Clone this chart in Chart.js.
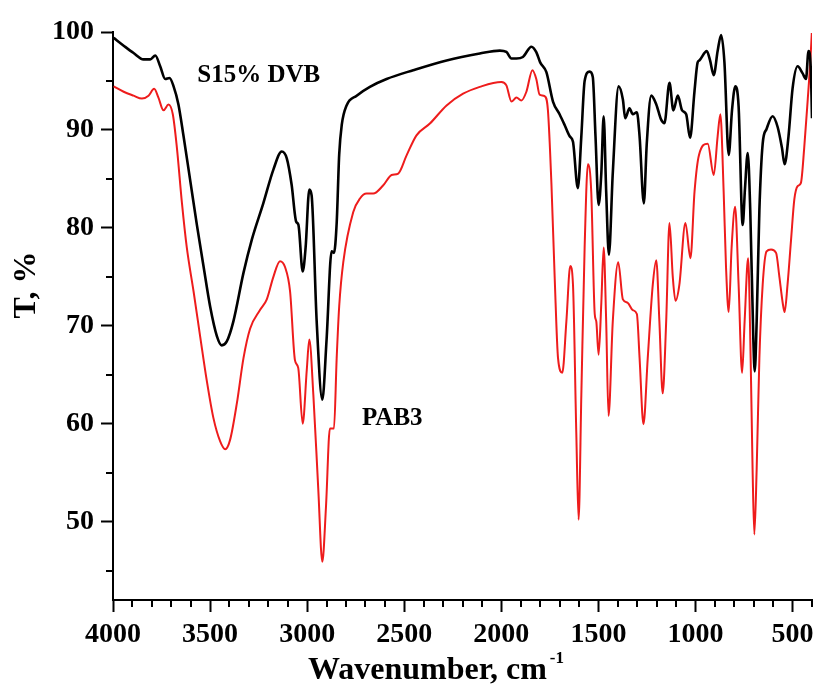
<!DOCTYPE html>
<html>
<head>
<meta charset="utf-8">
<script src="https://cdn.jsdelivr.net/npm/chart.js@4.4.1/dist/chart.umd.min.js"></script>
<style>
html,body{margin:0;padding:0;background:#fff;}
#wrap{width:818px;height:684px;}
</style>
</head>
<body>
<div id="wrap"><canvas id="c" width="818" height="684"></canvas></div>
<script>
// ---- data ----
const seriesNames = ["S15% DVB", "PAB3"];

const dvbWavenumber = [3997,3945,3894,3843,3808,3782,3757,3731,3709,3688,3663,3637,3602,3568,3534,3500,3465,3440,3414,3380,3328,3285,3226,3174,3131,3105,3080,3057,3045,3023,3008,2989,2977,2951,2922,2900,2874,2862,2848,2835,2822,2797,2745,2677,2591,2454,2282,2111,2008,1974,1948,1922,1889,1845,1820,1800,1768,1734,1700,1674,1648,1631,1606,1588,1571,1545,1529,1515,1499,1485,1473,1460,1446,1426,1396,1374,1362,1340,1323,1302,1288,1266,1251,1228,1202,1177,1160,1134,1114,1091,1069,1048,1028,1005,989,980,942,925,906,886,868,851,829,812,795,778,757,745,731,718,702,695,685,671,654,634,603,577,555,541,521,500,474,449,431,418,406,400];
const dvbT = [99.4,98.6,97.85,97.2,97.2,97.6,96.5,95.2,95.3,94.45,92.6,89.4,84.8,80.3,76.1,72.0,68.95,68.0,68.4,70.45,75.4,78.8,82.5,85.95,87.8,87.1,84.4,80.65,80.3,75.55,78.0,83.9,83.3,70.45,62.45,68.6,77.6,77.45,80.5,87.5,90.5,92.5,93.5,94.4,95.2,96.1,97.1,97.8,98.1,97.96,97.3,97.3,97.45,98.5,97.95,96.9,95.9,92.9,91.6,90.5,89.35,88.8,84.05,89.35,95.0,95.95,95.4,89.35,82.35,85.6,91.4,83.7,77.25,85.6,94.45,93.1,91.2,92.2,91.6,91.8,89.35,82.5,88.6,93.5,92.6,91.05,90.7,94.8,92.0,93.5,92.0,91.6,89.2,94.0,96.9,97.1,98.05,97.1,95.6,98.05,99.7,96.9,87.45,92.0,94.45,92.4,80.3,84.05,87.65,81.8,68.55,65.35,70.45,81.8,88.6,90.1,91.4,90.3,88.2,86.5,89.35,94.25,96.5,95.8,95.2,98.05,96.15,91.2];

const pabWavenumber = [3997,3945,3894,3851,3817,3788,3766,3740,3714,3692,3671,3645,3620,3585,3551,3517,3483,3448,3422,3397,3362,3328,3294,3243,3208,3174,3140,3114,3088,3063,3046,3023,3002,2989,2968,2943,2922,2903,2883,2862,2848,2835,2814,2763,2728,2694,2660,2608,2565,2531,2488,2437,2368,2282,2197,2111,2000,1974,1948,1922,1897,1871,1840,1820,1803,1777,1760,1742,1725,1708,1686,1665,1645,1631,1614,1602,1588,1571,1554,1537,1519,1511,1499,1485,1473,1460,1448,1426,1398,1374,1349,1323,1302,1288,1268,1246,1220,1202,1186,1169,1151,1134,1117,1103,1083,1052,1026,1005,982,937,906,886,872,855,843,829,814,796,778,760,747,729,716,706,697,685,671,654,634,611,585,568,551,541,526,508,491,474,457,440,422,409,401];
const pabT = [94.45,93.9,93.5,93.2,93.5,94.2,93.3,92.0,92.6,91.6,88.2,82.55,78.0,73.5,68.9,64.4,60.6,58.2,57.4,58.35,62.1,66.7,69.7,71.6,72.7,75.0,76.6,76.0,73.5,66.5,65.7,60.0,65.5,68.6,62.9,53.4,45.9,51.55,59.5,59.5,66.7,72.0,76.5,81.6,83.0,83.5,83.5,84.35,85.4,85.55,87.4,89.45,90.65,92.5,93.7,94.4,94.9,94.55,92.9,93.3,93.0,93.9,96.1,95.2,93.6,93.45,92.0,84.5,74.8,66.7,65.2,70.45,76.1,74.2,59.1,50.2,62.9,78.0,86.5,83.7,71.2,70.45,67.05,72.35,78.0,70.45,60.8,70.45,76.5,72.7,72.35,71.6,71.2,66.7,59.95,66.7,74.2,76.7,70.45,63.1,70.45,80.5,75.0,72.55,74.2,80.5,76.9,83.7,87.45,88.6,85.4,89.35,91.6,83.7,76.1,71.4,78.0,82.15,74.2,65.2,70.45,76.9,66.7,55.35,48.7,55.35,66.7,74.2,77.6,77.8,77.45,75.0,72.35,71.4,74.2,78.75,82.9,84.25,84.6,88.2,93.1,96.9,99.9];

const xTickValues = [4000,3500,3000,2500,2000,1500,1000,500];
const yTickValues = [50,60,70,80,90,100];
const labelPositions = { dvb: [3566, 94.86], pab: [2718, 59.87] };

// ---- chart ----
const FONT = "'Liberation Serif','Times New Roman',serif";
const toPoints = (xs, ys) => xs.map((x, i) => ({ x: x, y: ys[i] }));

const decoPlugin = {
  id: 'deco',
  afterDraw(chart) {
    const ctx = chart.ctx;
    const xs = chart.scales.x, ys = chart.scales.y;
    const area = chart.chartArea;
    ctx.save();
    ctx.strokeStyle = '#000';
    ctx.lineWidth = 2;
    // minor ticks
    for (let v = 400; v <= 4000; v += 100) {
      if (v % 500 === 0) continue;
      const px = Math.round(xs.getPixelForValue(v));
      ctx.beginPath(); ctx.moveTo(px, area.bottom); ctx.lineTo(px, area.bottom + 7); ctx.stroke();
    }
    for (let v = 45; v < 100; v += 10) {
      const py = Math.round(ys.getPixelForValue(v));
      ctx.beginPath(); ctx.moveTo(area.left, py); ctx.lineTo(area.left - 7, py); ctx.stroke();
    }
    ctx.fillStyle = '#000';
    // y title
    ctx.save();
    ctx.translate(27, 285);
    ctx.rotate(-Math.PI / 2);
    ctx.font = "bold 32px " + FONT;
    ctx.textAlign = 'center';
    ctx.textBaseline = 'middle';
    ctx.fillText('T, %', 0, 0);
    ctx.restore();
    // x title
    ctx.font = "bold 32px " + FONT;
    ctx.textAlign = 'left';
    ctx.textBaseline = 'alphabetic';
    const t = 'Wavenumber, cm';
    const w = ctx.measureText(t).width;
    ctx.font = "bold 17px " + FONT;
    const w2 = ctx.measureText('-1').width;
    const x0 = 436 - (w + 3 + w2) / 2;
    ctx.font = "bold 32px " + FONT;
    ctx.fillText(t, x0, 679);
    ctx.font = "bold 17px " + FONT;
    ctx.fillText('-1', x0 + w + 3, 663);
    // series labels
    ctx.font = "bold 25px " + FONT;
    ctx.fillText(seriesNames[0], xs.getPixelForValue(labelPositions.dvb[0]), ys.getPixelForValue(labelPositions.dvb[1]));
    ctx.fillText(seriesNames[1], xs.getPixelForValue(labelPositions.pab[0]), ys.getPixelForValue(labelPositions.pab[1]));
    ctx.restore();
  }
};

new Chart(document.getElementById('c'), {
  type: 'line',
  data: {
    datasets: [
      { label: seriesNames[0], data: toPoints(dvbWavenumber, dvbT), borderColor: '#000000', borderWidth: 2.6, pointRadius: 0, cubicInterpolationMode: 'monotone', fill: false },
      { label: seriesNames[1], data: toPoints(pabWavenumber, pabT), borderColor: '#ee1c1c', borderWidth: 2, pointRadius: 0, cubicInterpolationMode: 'monotone', fill: false }
    ]
  },
  options: {
    responsive: false,
    animation: false,
    devicePixelRatio: 1,
    layout: { padding: { top: 32, right: 5, left: 0, bottom: 0 } },
    plugins: { legend: { display: false }, tooltip: { enabled: false }, title: { display: false } },
    scales: {
      x: {
        type: 'linear', reverse: true, min: 400, max: 4000,
        afterBuildTicks: s => { s.ticks = xTickValues.concat([400]).map(v => ({ value: v })); },
        afterFit: s => { s.height = 84; },
        ticks: { autoSkip: false, maxRotation: 0, color: '#000', padding: 6, font: { family: FONT, size: 28, weight: 'bold' }, callback: v => (xTickValues.includes(v) ? String(v) : '') },
        grid: { drawOnChartArea: false, drawTicks: true, tickLength: 12, tickWidth: 2,
                tickColor: c => (c.tick && xTickValues.includes(c.tick.value) ? '#000' : 'rgba(0,0,0,0)') },
        border: { display: true, color: '#000', width: 2 }
      },
      y: {
        type: 'linear', min: 42, max: 100,
        afterBuildTicks: s => { s.ticks = yTickValues.map(v => ({ value: v })); },
        afterFit: s => { s.width = 113; },
        ticks: { color: '#000', padding: 7, font: { family: FONT, size: 28, weight: 'bold' }, callback: v => String(v) },
        grid: { drawOnChartArea: false, drawTicks: true, tickLength: 12, tickWidth: 2, tickColor: '#000' },
        border: { display: true, color: '#000', width: 2 }
      }
    }
  },
  plugins: [decoPlugin]
});
</script>
</body>
</html>
